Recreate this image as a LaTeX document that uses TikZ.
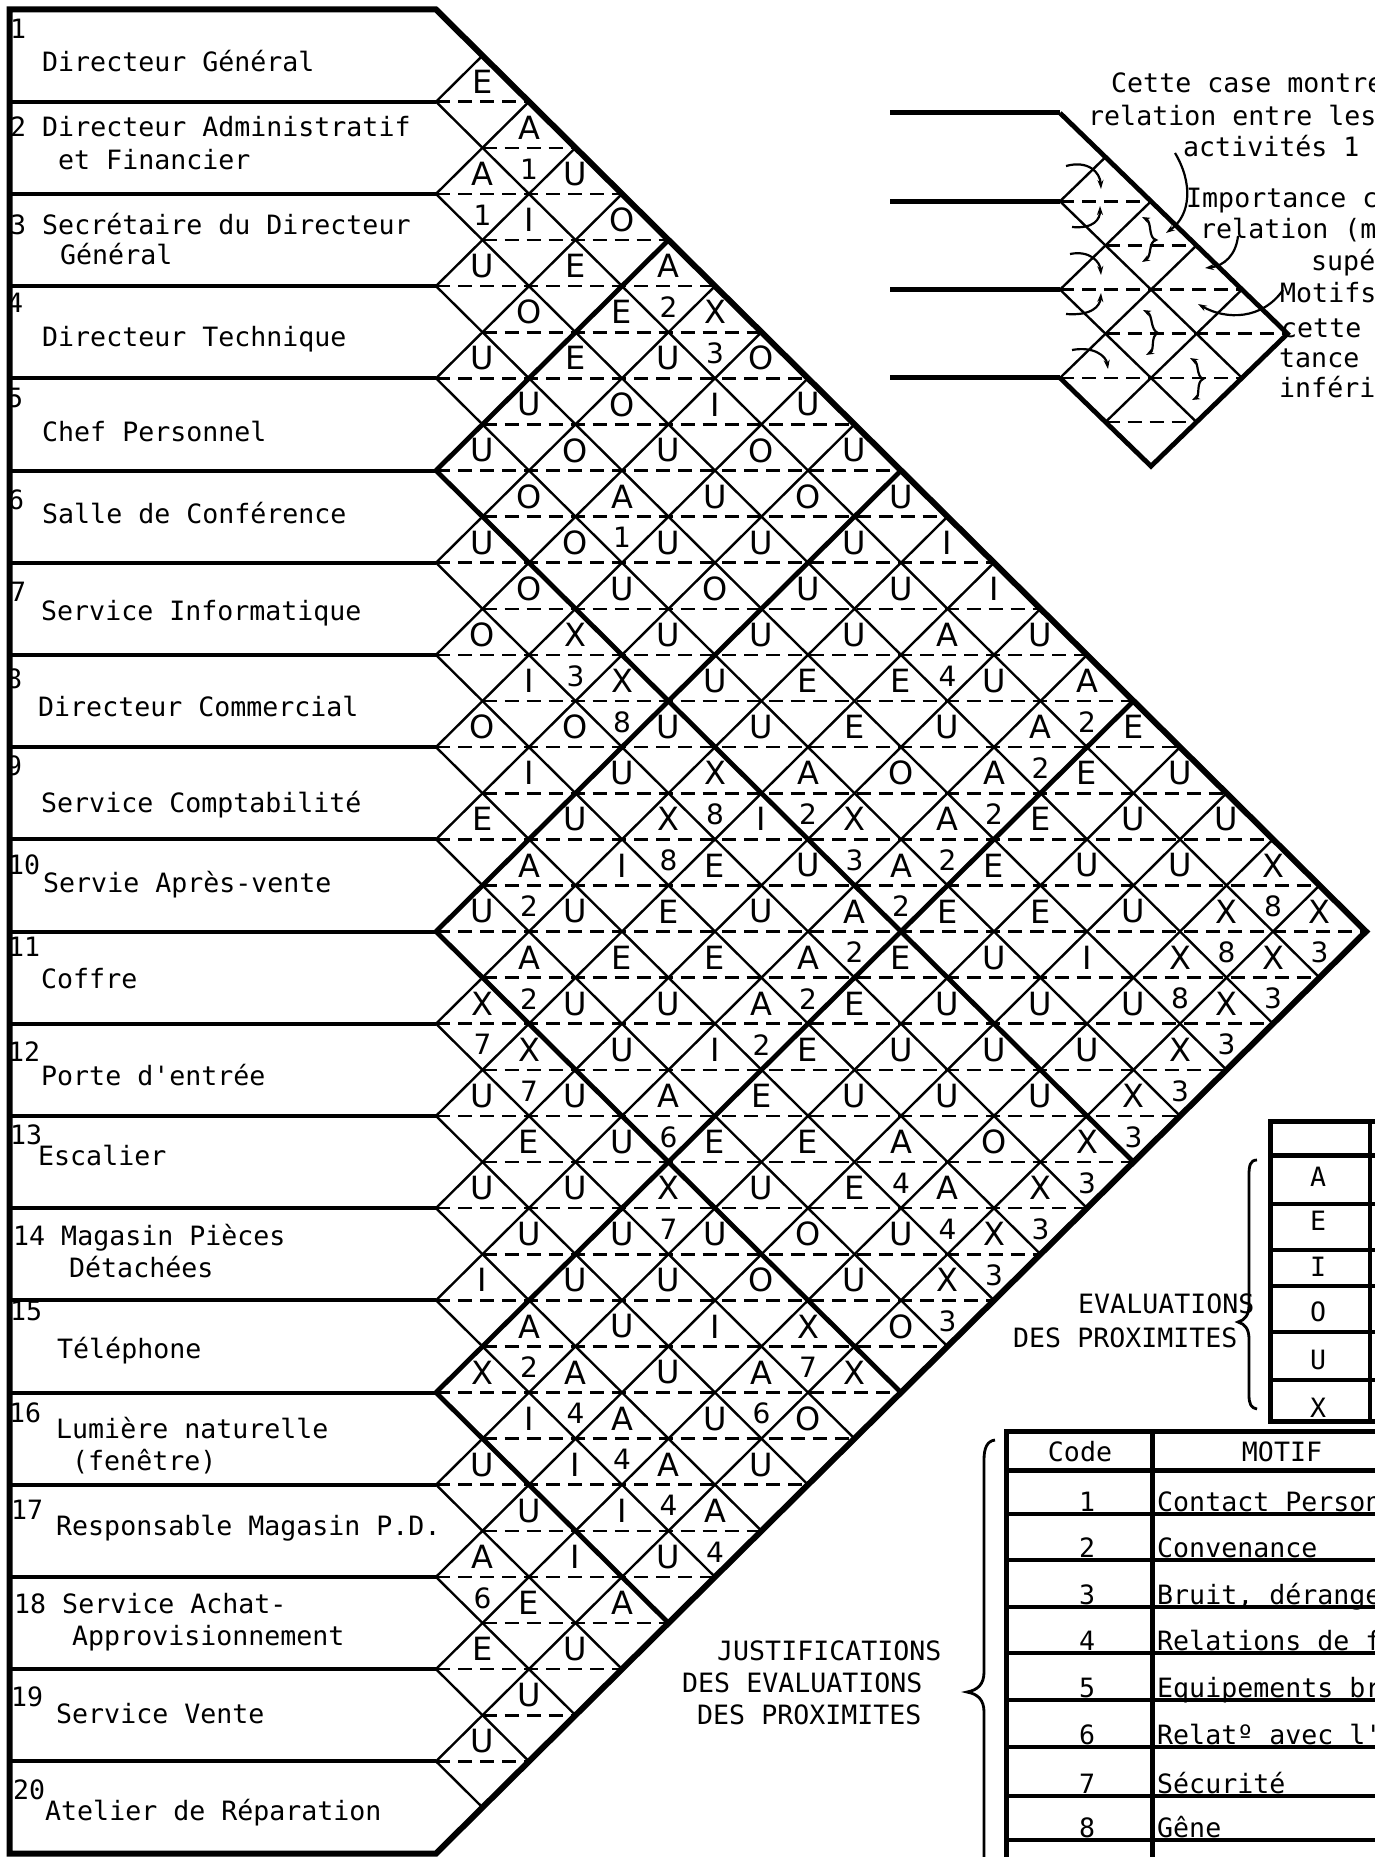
\documentclass[tikz,border=0pt]{standalone}
\usepackage{fontspec}
\setmainfont{DejaVu Sans}
\newfontfamily\tw{DejaVu Sans Mono}
\usetikzlibrary{arrows.meta}
\newcommand\relcell[4]{%
  \pgfmathsetmacro\rcx{436+(#2-#1)*46.5}%
  \pgfmathsetmacro\rcy{9.5+(#1+#2-1)*46.1}%
  \node[lt] (l#1-#2) at (\rcx,\rcy-20) {#3};%
  \if\relax\detokenize{#4}\relax\else\node[nb] (n#1-#2) at (\rcx,\rcy+21) {#4};\fi
}
\begin{document}
\begin{tikzpicture}[x=1pt,y=-1pt,
  lt/.style={font=\fontsize{32}{32}\selectfont,inner sep=0pt},
  nb/.style={font=\fontsize{28}{28}\selectfont,inner sep=0pt},
  lab/.style={font=\tw\fontsize{26.6}{30}\selectfont,inner sep=0pt,anchor=base west},
  cen/.style={font=\tw\fontsize{26.6}{30}\selectfont,inner sep=0pt},
  dsh/.style={line width=2.6pt,dash pattern=on 14pt off 8pt},
  latthin/.style={line width=2.4pt},
  latthick/.style={line width=4.8pt},
  arr/.style={line width=2.2pt,-{Stealth[length=9pt,width=6pt]}},
  arr2/.style={line width=2.2pt,{Stealth[length=8pt,width=6pt]}-{Stealth[length=8pt,width=6pt]}}]
\useasboundingbox (0,0) rectangle (1375,1857);
\fill[white] (0,0) rectangle (1375,1857);
\clip (0,0) rectangle (1375,1857);

% ---------- main lattice ----------
\foreach \k in {1,...,19}{
  \pgfmathsetmacro\lw{ifthenelse(mod(\k,5)==0,4.8,2.4)}
  \draw[line width=\lw pt] (436,{9.5+\k*92.2}) -- ++({(20-\k)*46.5},{(20-\k)*46.1});
  \draw[line width=\lw pt] (436,{9.5+\k*92.2}) -- ++({\k*46.5},{-\k*46.1});
  \draw[line width=4pt] (9.5,{9.5+\k*92.2}) -- (436,{9.5+\k*92.2});
}
\foreach \m in {2,...,38}{
  \pgfmathsetmacro\yy{9.5+\m*46.1}
  \pgfmathsetmacro\xl{ifthenelse(mod(\m,2)==0,436,482.5)}
  \pgfmathsetmacro\xr{436+min(\m/2,20-\m/2)*93}
  \draw[dsh] (\xl,\yy) -- (\xr,\yy);
}
\draw[line width=6pt,line join=miter] (436,9.5) -- (9.5,9.5) -- (9.5,1853.5) -- (436,1853.5) -- (1366,931.5) -- cycle;

% ---------- cells ----------
\relcell{1}{2}{E}{}\relcell{1}{3}{A}{1}\relcell{1}{4}{U}{}\relcell{1}{5}{O}{}\relcell{1}{6}{A}{2}
\relcell{1}{7}{X}{3}\relcell{1}{8}{O}{}\relcell{1}{9}{U}{}\relcell{1}{10}{U}{}\relcell{1}{11}{U}{}
\relcell{1}{12}{I}{}\relcell{1}{13}{I}{}\relcell{1}{14}{U}{}\relcell{1}{15}{A}{2}\relcell{1}{16}{E}{}
\relcell{1}{17}{U}{}\relcell{1}{18}{U}{}\relcell{1}{19}{X}{8}\relcell{1}{20}{X}{3}
\relcell{2}{3}{A}{1}\relcell{2}{4}{I}{}\relcell{2}{5}{E}{}\relcell{2}{6}{E}{}\relcell{2}{7}{U}{}
\relcell{2}{8}{I}{}\relcell{2}{9}{O}{}\relcell{2}{10}{O}{}\relcell{2}{11}{U}{}\relcell{2}{12}{U}{}
\relcell{2}{13}{A}{4}\relcell{2}{14}{U}{}\relcell{2}{15}{A}{2}\relcell{2}{16}{E}{}\relcell{2}{17}{U}{}
\relcell{2}{18}{U}{}\relcell{2}{19}{X}{8}\relcell{2}{20}{X}{3}
\relcell{3}{4}{U}{}\relcell{3}{5}{O}{}\relcell{3}{6}{E}{}\relcell{3}{7}{O}{}\relcell{3}{8}{U}{}
\relcell{3}{9}{U}{}\relcell{3}{10}{U}{}\relcell{3}{11}{U}{}\relcell{3}{12}{U}{}\relcell{3}{13}{E}{}
\relcell{3}{14}{U}{}\relcell{3}{15}{A}{2}\relcell{3}{16}{E}{}\relcell{3}{17}{U}{}\relcell{3}{18}{U}{}
\relcell{3}{19}{X}{8}\relcell{3}{20}{X}{3}
\relcell{4}{5}{U}{}\relcell{4}{6}{U}{}\relcell{4}{7}{O}{}\relcell{4}{8}{A}{1}\relcell{4}{9}{U}{}
\relcell{4}{10}{O}{}\relcell{4}{11}{U}{}\relcell{4}{12}{E}{}\relcell{4}{13}{E}{}\relcell{4}{14}{O}{}
\relcell{4}{15}{A}{2}\relcell{4}{16}{E}{}\relcell{4}{17}{E}{}\relcell{4}{18}{I}{}\relcell{4}{19}{U}{}
\relcell{4}{20}{X}{3}
\relcell{5}{6}{U}{}\relcell{5}{7}{O}{}\relcell{5}{8}{O}{}\relcell{5}{9}{U}{}\relcell{5}{10}{U}{}
\relcell{5}{11}{U}{}\relcell{5}{12}{U}{}\relcell{5}{13}{A}{2}\relcell{5}{14}{X}{3}\relcell{5}{15}{A}{2}
\relcell{5}{16}{E}{}\relcell{5}{17}{U}{}\relcell{5}{18}{U}{}\relcell{5}{19}{U}{}\relcell{5}{20}{X}{3}
\relcell{6}{7}{U}{}\relcell{6}{8}{O}{}\relcell{6}{9}{X}{3}\relcell{6}{10}{X}{8}\relcell{6}{11}{U}{}
\relcell{6}{12}{X}{8}\relcell{6}{13}{I}{}\relcell{6}{14}{U}{}\relcell{6}{15}{A}{2}\relcell{6}{16}{E}{}
\relcell{6}{17}{U}{}\relcell{6}{18}{U}{}\relcell{6}{19}{U}{}\relcell{6}{20}{X}{3}
\relcell{7}{8}{O}{}\relcell{7}{9}{I}{}\relcell{7}{10}{O}{}\relcell{7}{11}{U}{}\relcell{7}{12}{X}{8}
\relcell{7}{13}{E}{}\relcell{7}{14}{U}{}\relcell{7}{15}{A}{2}\relcell{7}{16}{E}{}\relcell{7}{17}{U}{}
\relcell{7}{18}{U}{}\relcell{7}{19}{O}{}\relcell{7}{20}{X}{3}
\relcell{8}{9}{O}{}\relcell{8}{10}{I}{}\relcell{8}{11}{U}{}\relcell{8}{12}{I}{}\relcell{8}{13}{E}{}
\relcell{8}{14}{E}{}\relcell{8}{15}{A}{2}\relcell{8}{16}{E}{}\relcell{8}{17}{U}{}\relcell{8}{18}{A}{4}
\relcell{8}{19}{A}{4}\relcell{8}{20}{X}{3}
\relcell{9}{10}{E}{}\relcell{9}{11}{A}{2}\relcell{9}{12}{U}{}\relcell{9}{13}{E}{}\relcell{9}{14}{U}{}
\relcell{9}{15}{I}{}\relcell{9}{16}{E}{}\relcell{9}{17}{E}{}\relcell{9}{18}{E}{}\relcell{9}{19}{U}{}
\relcell{9}{20}{X}{3}
\relcell{10}{11}{U}{}\relcell{10}{12}{A}{2}\relcell{10}{13}{U}{}\relcell{10}{14}{U}{}\relcell{10}{15}{A}{6}
\relcell{10}{16}{E}{}\relcell{10}{17}{U}{}\relcell{10}{18}{O}{}\relcell{10}{19}{U}{}\relcell{10}{20}{O}{}
\relcell{11}{12}{X}{7}\relcell{11}{13}{X}{7}\relcell{11}{14}{U}{}\relcell{11}{15}{U}{}\relcell{11}{16}{X}{7}
\relcell{11}{17}{U}{}\relcell{11}{18}{O}{}\relcell{11}{19}{X}{7}\relcell{11}{20}{X}{}
\relcell{12}{13}{U}{}\relcell{12}{14}{E}{}\relcell{12}{15}{U}{}\relcell{12}{16}{U}{}\relcell{12}{17}{U}{}
\relcell{12}{18}{I}{}\relcell{12}{19}{A}{6}\relcell{12}{20}{O}{}
\relcell{13}{14}{U}{}\relcell{13}{15}{U}{}\relcell{13}{16}{U}{}\relcell{13}{17}{U}{}\relcell{13}{18}{U}{}
\relcell{13}{19}{U}{}\relcell{13}{20}{U}{}
\relcell{14}{15}{I}{}\relcell{14}{16}{A}{2}\relcell{14}{17}{A}{4}\relcell{14}{18}{A}{4}\relcell{14}{19}{A}{4}
\relcell{14}{20}{A}{4}
\relcell{15}{16}{X}{}\relcell{15}{17}{I}{}\relcell{15}{18}{I}{}\relcell{15}{19}{I}{}\relcell{15}{20}{U}{}
\relcell{16}{17}{U}{}\relcell{16}{18}{U}{}\relcell{16}{19}{I}{}\relcell{16}{20}{A}{}
\relcell{17}{18}{A}{6}\relcell{17}{19}{E}{}\relcell{17}{20}{U}{}
\relcell{18}{19}{E}{}\relcell{18}{20}{U}{}
\relcell{19}{20}{U}{}

% ---------- row labels ----------
\node[lab] (r1n) at (10,39) {1};
\node[lab] (r1) at (42,72) {Directeur Général};
\node[lab] (r2) at (10,137) {2 Directeur Administratif};
\node[lab] (r2b) at (58,169) {et Financier};
\node[lab] (r3) at (10,234) {3 Secrétaire du Directeur};
\node[lab] (r3b) at (60,264) {Général};
\node[lab] (r4n) at (7,312) {4};
\node[lab] (r4) at (42,346) {Directeur Technique};
\node[lab] (r5n) at (7,407) {5};
\node[lab] (r5) at (42,441) {Chef Personnel};
\node[lab] (r6n) at (8,509) {6};
\node[lab] (r6) at (42,523) {Salle de Conférence};
\node[lab] (r7n) at (10,601) {7};
\node[lab] (r7) at (41,620) {Service Informatique};
\node[lab] (r8n) at (6,688) {8};
\node[lab] (r8) at (38,716) {Directeur Commercial};
\node[lab] (r9n) at (6,775) {9};
\node[lab] (r9) at (41,812) {Service Comptabilité};
\node[lab] (r10n) at (8,874) {10};
\node[lab] (r10) at (43,892) {Servie Après-vente};
\node[lab] (r11n) at (8,956) {11};
\node[lab] (r11) at (41,988) {Coffre};
\node[lab] (r12n) at (8,1061) {12};
\node[lab] (r12) at (41,1085) {Porte d'entrée};
\node[lab] (r13n) at (10,1144) {13};
\node[lab] (r13) at (38,1165) {Escalier};
\node[lab] (r14) at (13,1245) {14 Magasin Pièces};
\node[lab] (r14b) at (69,1277) {Détachées};
\node[lab] (r15n) at (10,1320) {15};
\node[lab] (r15) at (57,1358) {Téléphone};
\node[lab] (r16n) at (9,1422) {16};
\node[lab] (r16) at (56,1438) {Lumière naturelle};
\node[lab] (r16b) at (72,1470) {(fenêtre)};
\node[lab] (r17n) at (11,1519) {17};
\node[lab] (r17) at (56,1535) {Responsable Magasin P.D.};
\node[lab] (r18) at (14,1613) {18 Service Achat-};
\node[lab] (r18b) at (72,1645) {Approvisionnement};
\node[lab] (r19n) at (11,1706) {19};
\node[lab] (r19) at (56,1723) {Service Vente};
\node[lab] (r20n) at (13,1799) {20};
\node[lab] (r20) at (45,1820) {Atelier de Réparation};

% ---------- legend lattice ----------
\foreach \yy in {113,201.3,289.6,377.9} \draw[line width=5pt] (890,\yy) -- (1060,\yy);
\draw[latthick] (1060,113) -- (1287.5,333.75) -- (1151,466.2) -- (1060,377.9);
\draw[latthin] (1060,201.3) -- (1242,377.9);
\draw[latthin] (1060,289.6) -- (1196.5,422.05);
\draw[latthin] (1060,201.3) -- (1105.5,157.15);
\draw[latthin] (1060,289.6) -- (1151,201.3);
\draw[latthin] (1060,377.9) -- (1196.5,245.45);
\draw[latthin] (1105.5,422.05) -- (1242,289.6);
\draw[dsh] (1060,201.3) -- (1151,201.3);
\draw[dsh] (1105.5,245.45) -- (1196.5,245.45);
\draw[dsh] (1060,289.6) -- (1242,289.6);
\draw[dsh] (1105.5,333.75) -- (1287.5,333.75);
\draw[dsh] (1060,377.9) -- (1242,377.9);
\draw[dsh] (1105.5,422.05) -- (1196.5,422.05);
% small arrows
\draw[arr] (1066,166) .. controls (1088,160) and (1100,172) .. (1101,189);
\draw[arr] (1072,227) .. controls (1094,229) and (1100,219) .. (1100,206);
\draw[arr] (1070,254) .. controls (1090,250) and (1100,262) .. (1101,275);
\draw[arr] (1066,314) .. controls (1092,316) and (1100,306) .. (1101,293);
\draw[arr] (1072,350) .. controls (1094,346) and (1106,356) .. (1108,369);
\draw[arr2] (1142,217) .. controls (1152,222) and (1148,238) .. (1156,240) .. controls (1148,242) and (1152,256) .. (1142,262);
\draw[arr2] (1143,310) .. controls (1153,315) and (1150,330) .. (1158,333) .. controls (1150,336) and (1155,350) .. (1146,355);
\draw[arr2] (1190,358) .. controls (1199,363) and (1196,376) .. (1203,379) .. controls (1196,382) and (1200,396) .. (1192,400);
\draw[arr] (1175,153) .. controls (1193,183) and (1191,215) .. (1166,233);
\draw[arr] (1238,236) .. controls (1236,255) and (1224,266) .. (1205,268);
\draw[arr] (1283,290) .. controls (1262,320) and (1226,320) .. (1198,304);
% legend text
\node[lab] (t1) at (1111,93) {Cette case montre};
\node[lab] (t2) at (1088,126) {relation entre les};
\node[lab] (t3) at (1183,157) {activités 1};
\node[lab] (t4) at (1186,207) {Importance c};
\node[lab] (t5) at (1200,238) {relation (m};
\node[lab] (t6) at (1311,270) {supé};
\node[lab] (t7) at (1280,302) {Motifs};
\node[lab] (t8) at (1281,337) {cette};
\node[lab] (t9) at (1279,367) {tance};
\node[lab] (t10) at (1279,397) {inféri};

% ---------- evaluation table ----------
\draw[line width=5pt,line join=miter] (1400,1121) -- (1270,1121) -- (1270,1421) -- (1400,1421);
\draw[line width=4pt] (1370,1121) -- (1370,1421);
\draw[line width=4.5pt] (1270,1155.6) -- (1400,1155.6);
\foreach \yy in {1204,1250,1286,1332,1380} \draw[line width=3.5pt] (1270,\yy) -- (1400,\yy);
\node[cen] (eA) at (1318,1177) {A};
\node[cen] (eE) at (1318,1221) {E};
\node[cen] (eI) at (1318,1267) {I};
\node[cen] (eO) at (1318,1312) {O};
\node[cen] (eU) at (1318,1360) {U};
\node[cen] (eX) at (1318,1408) {X};
\draw[line width=2.8pt] (1257,1160) .. controls (1250,1160) and (1249,1166) .. (1249,1175) -- (1249,1305) .. controls (1249,1315) and (1245,1320) .. (1238,1322) .. controls (1245,1324) and (1249,1329) .. (1249,1339) -- (1249,1395) .. controls (1249,1404) and (1251,1408) .. (1257,1409);
\node[lab] (ev1) at (1078,1313) {EVALUATIONS};
\node[lab] (ev2) at (1013,1347) {DES PROXIMITES};

% ---------- motif table ----------
\draw[line width=5pt,line join=miter] (1400,1431) -- (1006,1431) -- (1006,1870);
\draw[line width=5pt] (1152,1431) -- (1152,1870);
\draw[line width=5pt] (1006,1470) -- (1400,1470);
\foreach \yy in {1514,1560,1607,1653,1700,1747,1796,1840} \draw[line width=4pt] (1006,\yy) -- (1400,\yy);
\node[cen] (hc) at (1080,1452) {Code};
\node[cen] (hm) at (1282,1452) {MOTIF};
\node[cen,anchor=base] (c1) at (1087,1511) {1};
\node[cen,anchor=base] (c2) at (1087,1557) {2};
\node[cen,anchor=base] (c3) at (1087,1604) {3};
\node[cen,anchor=base] (c4) at (1087,1650) {4};
\node[cen,anchor=base] (c5) at (1087,1697) {5};
\node[cen,anchor=base] (c6) at (1087,1744) {6};
\node[cen,anchor=base] (c7) at (1087,1793) {7};
\node[cen,anchor=base] (c8) at (1087,1837) {8};
\node[lab] (m1) at (1157,1511) {Contact Person};
\node[lab] (m2) at (1157,1557) {Convenance};
\node[lab] (m3) at (1157,1604) {Bruit, dérange};
\node[lab] (m4) at (1157,1650) {Relations de f};
\node[lab] (m5) at (1157,1697) {Equipements br};
\node[lab] (m6) at (1157,1744) {Relatº avec l'};
\node[lab] (m7) at (1157,1793) {Sécurité};
\node[lab] (m8) at (1157,1837) {Gêne};
\draw[line width=2.8pt] (995,1440) .. controls (987,1441) and (984,1448) .. (984,1460) -- (984,1672) .. controls (984,1684) and (978,1690) .. (967,1692) .. controls (978,1694) and (984,1700) .. (984,1712) -- (984,1870);
\node[lab] (j1) at (717,1660) {JUSTIFICATIONS};
\node[lab] (j2) at (682,1692) {DES EVALUATIONS};
\node[lab] (j3) at (697,1724) {DES PROXIMITES};
\end{tikzpicture}
\end{document}
